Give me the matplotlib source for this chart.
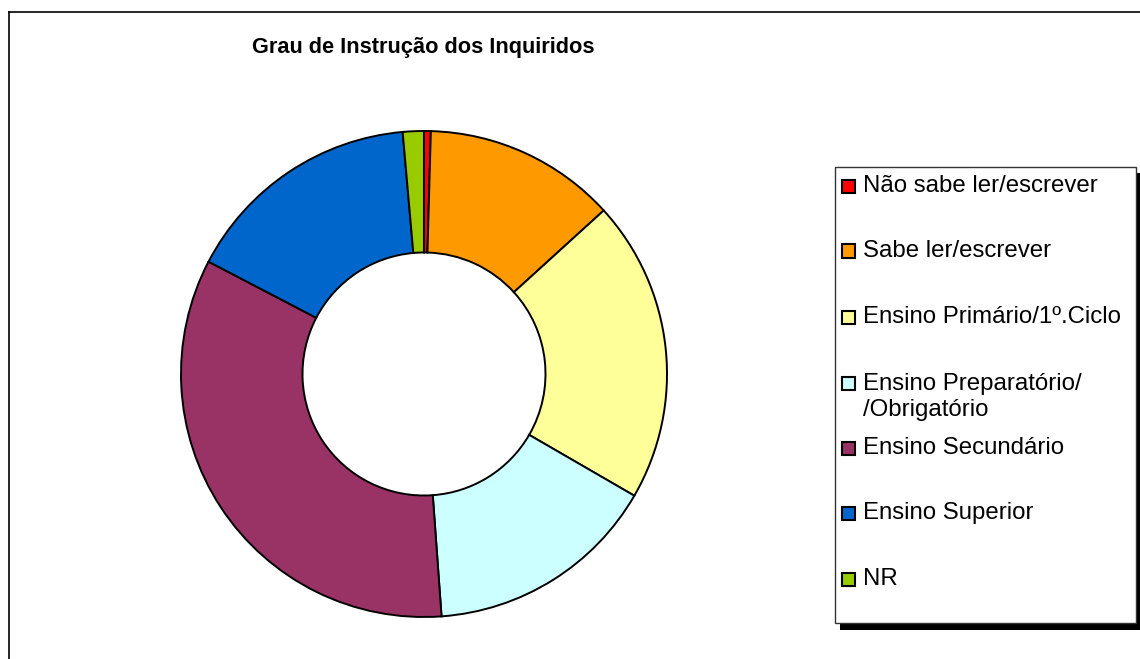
import matplotlib
matplotlib.use("Agg")
from matplotlib import pyplot as plt
from matplotlib.lines import Line2D
from matplotlib.patches import Rectangle

plt.rcParams['font.family'] = ['Liberation Sans', 'DejaVu Sans']

categorias = ["Não sabe ler/escrever", "Sabe ler/escrever", "Ensino Primário/1º.Ciclo",
              "Ensino Preparatório/\n/Obrigatório", "Ensino Secundário",
              "Ensino Superior", "NR"]
percentagens = [0.45, 12.8, 20.1, 15.5, 33.8, 15.95, 1.4]
cores = ["#FF0000", "#FF9900", "#FFFF99", "#CCFFFF", "#993366", "#0066CC", "#99CC00"]

W, H = 1140, 659
fig = plt.figure(figsize=(W / 100, H / 100), dpi=100)

def fx(px):
    return px / W

def fy(py):
    return 1 - py / H

# outer chart frame (left and top edges visible)
fig.add_artist(Line2D([fx(9), fx(9)], [fy(12), 0], color="black", lw=1.2))
fig.add_artist(Line2D([fx(9), 1], [fy(12), fy(12)], color="black", lw=1.2))

# donut
cx, cy, r = 424, 374, 243
ax = fig.add_axes([fx(cx - r), fy(cy + r), 2 * r / W, 2 * r / H])
ax.pie(percentagens, colors=cores, startangle=90, counterclock=False, radius=1,
       wedgeprops=dict(width=0.5, edgecolor="black", linewidth=1.4))
ax.set_xlim(-1.0, 1.0)
ax.set_ylim(-1.0, 1.0)
ax.set_aspect("equal")
ax.axis("off")

fig.text(fx(423), fy(47), "Grau de Instrução dos Inquiridos", ha="center", va="center",
         fontsize=15.7, fontweight="bold")

# legend box with shadow
fig.add_artist(Rectangle((fx(840), fy(630)), fx(1140 - 840), fy(623) - fy(630),
                         facecolor="black", edgecolor="none"))
fig.add_artist(Rectangle((fx(1136), fy(630)), fx(4), fy(173) - fy(630),
                         facecolor="black", edgecolor="none"))
fig.add_artist(Rectangle((fx(835), fy(623)), fx(1136 - 835), fy(167) - fy(623),
                         facecolor="white", edgecolor="#333333", lw=1.0))

linhas_y = [186, 251, 317, 383, 448, 513, 579]
for cat, cor, y in zip(categorias, cores, linhas_y):
    fig.add_artist(Rectangle((fx(842), fy(y + 6.5)), fx(13), fy(y - 6.5) - fy(y + 6.5),
                             facecolor=cor, edgecolor="black", lw=1.5))
    ty = y + 14 if "\n" in cat else y
    fig.text(fx(863), fy(ty), cat, ha="left", va="center", fontsize=17.3, linespacing=1.22)

fig.savefig("out.png", dpi=100)
